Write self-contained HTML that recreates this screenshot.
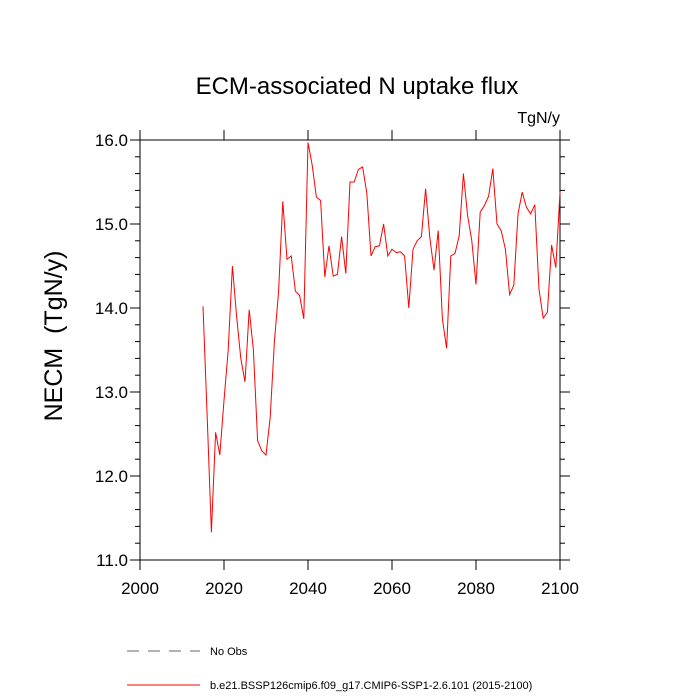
<!DOCTYPE html>
<html><head><meta charset="utf-8"><style>body{margin:0;background:#fff}svg{display:block}text{font-family:"Liberation Sans",sans-serif}</style></head>
<body>
<svg id="chart" width="700" height="700" viewBox="0 0 700 700">
<rect width="700" height="700" fill="#fff"/>
<text x="357" y="94" font-size="24" text-anchor="middle">ECM-associated N uptake flux</text>
<text x="560" y="123" font-size="16" text-anchor="end">TgN/y</text>
<text transform="translate(62,336) rotate(-90)" font-size="25" text-anchor="middle" xml:space="preserve" style="white-space:pre">NECM  (TgN/y)</text>
<g id="axes"></g>
<g id="series"></g>
<g>
<line x1="127" y1="651" x2="200" y2="651" stroke="#666" stroke-width="1" stroke-dasharray="12,9"/>
<text x="210" y="655" font-size="11">No Obs</text>
<line x1="127" y1="685" x2="200" y2="685" stroke="#f00" stroke-width="1"/>
<text x="210" y="689" font-size="11">b.e21.BSSP126cmip6.f09_g17.CMIP6-SSP1-2.6.101 (2015-2100)</text>
</g>
</svg>
<script>
const startYear = 2015;
const values = [14.02,12.7,11.33,12.52,12.25,12.9,13.5,14.5,13.9,13.4,13.12,13.98,13.5,12.42,12.3,12.25,12.7,13.6,14.2,15.27,14.58,14.62,14.2,14.15,13.87,15.97,15.7,15.32,15.28,14.37,14.74,14.38,14.4,14.85,14.41,15.5,15.5,15.65,15.68,15.37,14.62,14.73,14.74,15.0,14.62,14.7,14.66,14.67,14.62,14.0,14.7,14.8,14.85,15.42,14.84,14.45,14.92,13.87,13.52,14.62,14.65,14.86,15.6,15.1,14.8,14.28,15.14,15.22,15.33,15.66,15.0,14.92,14.7,14.16,14.27,15.12,15.38,15.2,15.12,15.23,14.22,13.88,13.95,14.75,14.48,15.38];
const xTicks = [2000,2020,2040,2060,2080,2100];
const yTicks = [11.0,12.0,13.0,14.0,15.0,16.0];
const L=140,R=560,T=140,B=560;
const xs=v=>L+(v-2000)/100*(R-L);
const ys=v=>B-(v-11)/5*(B-T);
const NS='http://www.w3.org/2000/svg';
function mk(tag,attrs,parent){const e=document.createElementNS(NS,tag);for(const k in attrs)e.setAttribute(k,attrs[k]);parent.appendChild(e);return e;}
const ax=document.getElementById('axes');
let f=mk('rect',{x:L,y:T,width:R-L,height:B-T,fill:'none',stroke:'#000','stroke-width':1},ax);


xTicks.forEach(t=>{const x=xs(t);
 let a=mk('line',{x1:x,y1:B,x2:x,y2:B+10,stroke:'#000'},ax);
 
 
 let b=mk('line',{x1:x,y1:T,x2:x,y2:T-10,stroke:'#000'},ax);
 
 
 let tx=mk('text',{x:x,y:B+34,'font-size':17,'text-anchor':'middle'},ax);tx.textContent=t;
 
 
});
for(let v=11;v<=16.001;v+=0.2){const y=ys(v);const major=Math.abs(v-Math.round(v))<1e-6;const len=major?10:5;
 let a=mk('line',{x1:L,y1:y,x2:L-len,y2:y,stroke:'#000'},ax);
 
 
 let b=mk('line',{x1:R,y1:y,x2:R+len,y2:y,stroke:'#000'},ax);
 
 
}
yTicks.forEach(t=>{let tx=mk('text',{x:L-12,y:ys(t)+6,'font-size':17,'text-anchor':'end'},ax);tx.textContent=t.toFixed(1);
 
 
});
const pts=values.map((v,i)=>xs(startYear+i).toFixed(1)+','+ys(v).toFixed(1)).join(' ');
let pl=mk('polyline',{points:pts,fill:'none',stroke:'#f00','stroke-width':1},document.getElementById('series'));


</script>
</body></html>
